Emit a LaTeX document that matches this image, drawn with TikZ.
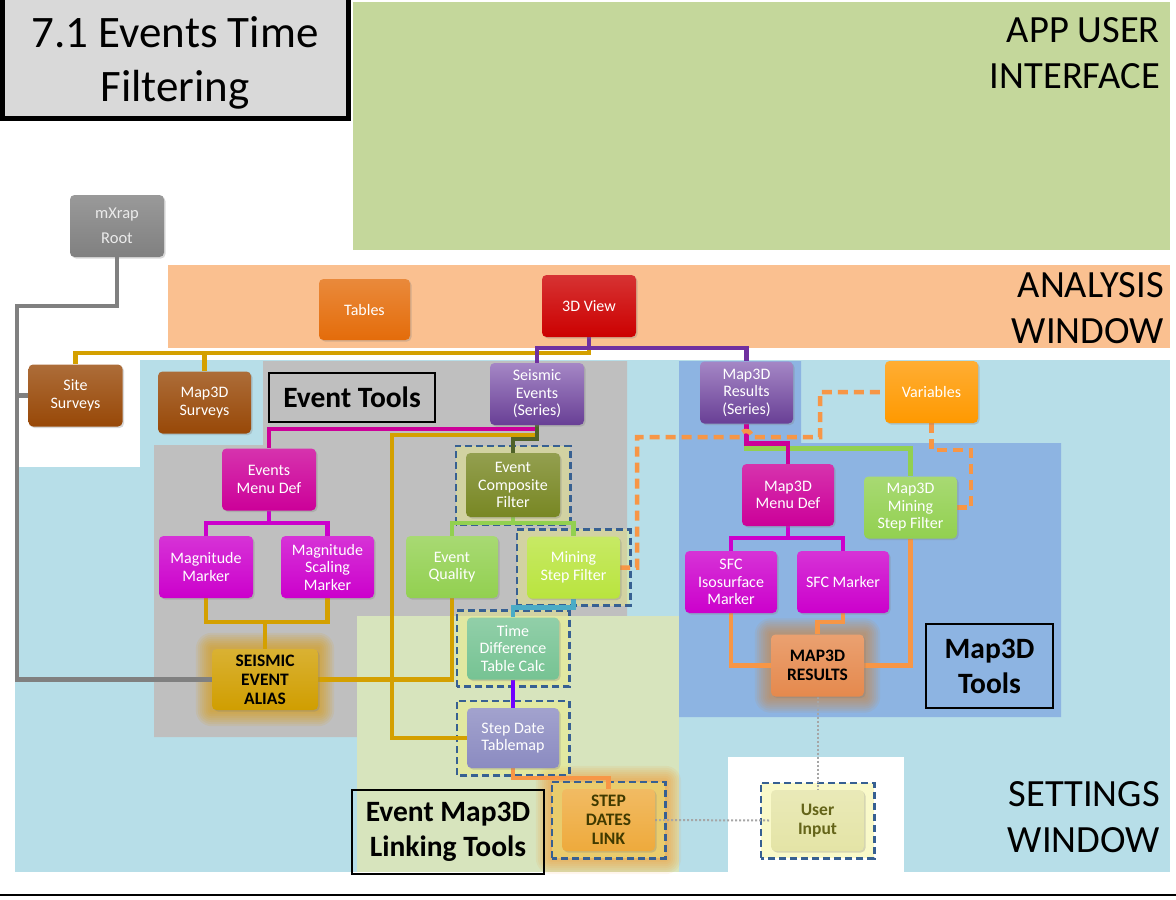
\documentclass[tikz,border=0pt]{standalone}
\usepackage{fontspec}
\setmainfont{Carlito}
\usetikzlibrary{calc,shadows}
\pgfdeclarelayer{regions}
\pgfdeclarelayer{glow}
\pgfdeclarelayer{lines}
\pgfsetlayers{regions,glow,lines,main}

\definecolor{bgset}{RGB}{183,222,232}
\definecolor{bggreen}{RGB}{196,215,155}
\definecolor{bgorange}{RGB}{250,192,144}
\definecolor{bggray}{RGB}{191,191,191}
\definecolor{bgyg}{RGB}{215,228,189}
\definecolor{bgmap}{RGB}{141,180,226}
\definecolor{titlegray}{RGB}{217,217,217}

\definecolor{cRoot}{RGB}{128,128,128}
\definecolor{cTables}{RGB}{228,108,10}
\definecolor{cView}{RGB}{204,0,0}
\definecolor{cBrown}{RGB}{152,72,7}
\definecolor{cPurple}{RGB}{116,70,166}
\definecolor{cVars}{RGB}{255,153,0}
\definecolor{cMenu}{RGB}{204,0,153}
\definecolor{cMark}{RGB}{204,0,204}
\definecolor{cOlive}{RGB}{120,135,35}
\definecolor{cLgreen}{RGB}{146,208,80}
\definecolor{cLime}{RGB}{185,228,62}
\definecolor{cMint}{RGB}{118,195,147}
\definecolor{cLav}{RGB}{139,139,193}
\definecolor{cSdl}{RGB}{238,170,60}
\definecolor{cAlias}{RGB}{208,158,0}
\definecolor{cM3r}{RGB}{229,137,77}
\definecolor{cUser}{RGB}{228,228,166}

\definecolor{lGray}{RGB}{128,128,128}
\definecolor{lGold}{RGB}{212,160,0}
\definecolor{lPurple}{RGB}{112,48,160}
\definecolor{lMag}{RGB}{204,0,153}
\definecolor{lMag2}{RGB}{204,0,204}
\definecolor{lOlive}{RGB}{79,98,40}
\definecolor{lGreen}{RGB}{146,208,80}
\definecolor{lTeal}{RGB}{75,172,198}
\definecolor{lViolet}{RGB}{112,0,255}
\definecolor{lOrange}{RGB}{247,150,70}
\definecolor{lDash}{RGB}{55,96,146}
\definecolor{dboxfill}{RGB}{240,240,120}
\definecolor{sdltext}{RGB}{64,58,0}
\definecolor{usertext}{RGB}{100,100,25}

\newcommand{\nodefont}{\fontsize{16}{17.5}\selectfont}
\newcommand{\rootfont}{\fontsize{16.5}{25}\selectfont}
\newcommand{\boldnodefont}{\fontsize{17.5}{19}\selectfont\bfseries}
\newcommand{\labfont}{\fontsize{29.5}{35}\selectfont\bfseries}
\newcommand{\bigfont}{\fontsize{38.5}{45}\selectfont}
\newcommand{\titlefont}{\fontsize{45}{56}\selectfont}

\tikzset{
  nd/.style={rounded corners=4.5pt, minimum width=93pt, minimum height=62pt,
    inner sep=1pt, align=center, text=white, font=\nodefont,
    drop shadow={opacity=0.3, shadow xshift=1.5pt, shadow yshift=-1.5pt}},
  ndc/.style={nd, top color=#1!80!white, bottom color=#1},
  lbl/.style={draw=black, line width=2.5pt, align=center, font=\labfont, inner sep=2pt},
  big/.style={inner sep=0pt, font=\bigfont},
  ln/.style={line width=4.5pt},
  dbox/.style={draw=lDash, line width=2.6pt, dash pattern=on 7pt off 4pt,
    fill=dboxfill, fill opacity=0.4},
  odash/.style={draw=lOrange, line width=4.5pt, dash pattern=on 10pt off 6pt},
  dotl/.style={draw=black!35, line width=2pt, dotted},
}

\begin{document}
\begin{tikzpicture}[x=1pt,y=-1pt]
\useasboundingbox (0,0) rectangle (1176,900);

% ---------- regions ----------
\begin{pgfonlayer}{regions}
\fill[bgset] (15,360) rectangle (1170,872);
\fill[white] (15,305) rectangle (140,467);
\fill[bggreen] (353,2) rectangle (1170,250);
\fill[bgorange] (168,265) rectangle (1170,348);
\fill[bggray] (263,361) -- (627,361) -- (627,616) -- (357,616) -- (357,737)
  -- (154,737) -- (154,445) -- (263,445) -- cycle;
\fill[bgyg] (357,616) rectangle (679,872);
\fill[bgmap] (679,361) -- (801,361) -- (801,443) -- (1061,443) -- (1061,717)
  -- (679,717) -- cycle;
\fill[white] (728,757) rectangle (904,875);
\draw[line width=5pt, fill=titlegray] (2,-5) rectangle (348,118);
\draw[line width=1.5pt] (0,895) -- (1176,895);
\end{pgfonlayer}

% ---------- big labels ----------
\node[inner sep=0pt, font=\titlefont, anchor=base] (t1) at (175,47) {7.1 Events Time};
\node[inner sep=0pt, font=\titlefont, anchor=base] (t2) at (175,101) {Filtering};
\node[big, anchor=base east] (app1) at (1160,42) {APP USER};
\node[big, anchor=base east] (app2) at (1160,88) {INTERFACE};
\node[big, anchor=base east] (ana1) at (1164,297) {ANALYSIS};
\node[big, anchor=base east] (ana2) at (1164,343) {WINDOW};
\node[big, anchor=base east] (set1) at (1160,806) {SETTINGS};
\node[big, anchor=base east] (set2) at (1160,852) {WINDOW};

\node[lbl, minimum width=166pt, minimum height=49pt] (evtools) at (352,397.5) {Event Tools};
\node[lbl, minimum width=192pt, minimum height=84pt] (linktools) at (448,832) {Event Map3D\\Linking Tools};
\node[lbl, minimum width=127pt, minimum height=84pt] (m3tools) at (989.5,666) {Map3D\\Tools};

% ---------- nodes ----------
\node[ndc=cRoot, font=\rootfont, text=white!92!black, minimum width=94pt] (root) at (117,226) {mXrap\\Root};
\node[ndc=cTables, minimum width=91pt, minimum height=61pt] (tables) at (364.5,309.5) {Tables};
\node[ndc=cView, minimum width=94pt] (view) at (589,306) {3D View};
\node[ndc=cBrown, minimum width=94pt] (site) at (75.5,395.5) {Site\\Surveys};
\node[ndc=cBrown] (msurv) at (204.5,402.5) {Map3D\\Surveys};
\node[nd, top color=cPurple!65!white, bottom color=cPurple!90!black, minimum width=94pt] (seis) at (537,394) {Seismic\\Events\\(Series)};
\node[nd, top color=cPurple!65!white, bottom color=cPurple!90!black] (m3res) at (746.5,392.5) {Map3D\\Results\\(Series)};
\node[ndc=cVars] (vars) at (931.5,392) {Variables};
\node[ndc=cMenu, minimum width=94pt] (emenu) at (269,479.5) {Events\\Menu Def};
\node[ndc=cOlive, minimum width=94pt, minimum height=64pt] (ecomp) at (513,485) {Event\\Composite\\Filter};
\node[ndc=cMark, minimum width=94pt] (magm) at (206,567) {Magnitude\\Marker};
\node[ndc=cMark] (magsc) at (327.5,567) {Magnitude\\Scaling\\Marker};
\node[ndc=cLgreen, minimum width=92pt] (equal) at (452,567) {Event\\Quality};
\node[ndc=cLime] (mining) at (573.5,567.5) {Mining\\Step Filter};
\node[ndc=cMint, minimum width=92pt] (tdiff) at (513,648.5) {Time\\Difference\\Table Calc};
\node[ndc=cLav, minimum width=92pt, minimum height=60pt] (sdtm) at (513,738) {Step Date\\Tablemap};
\node[ndc=cSdl, text=sdltext, font=\boldnodefont] (sdl) at (608.5,820) {STEP\\DATES\\LINK};
\node[ndc=cAlias, text=black, font=\boldnodefont, minimum width=106pt, minimum height=61pt] (alias) at (265,679.5) {SEISMIC\\EVENT\\ALIAS};
\node[ndc=cMenu, minimum width=92pt] (m3menu) at (788,495) {Map3D\\Menu Def};
\node[ndc=cLgreen] (m3mining) at (910.5,507.5) {Map3D\\Mining\\Step Filter};
\node[ndc=cMark, minimum width=92pt] (sfciso) at (731,582) {SFC\\Isosurface\\Marker};
\node[ndc=cMark, minimum width=92pt] (sfcm) at (843,582) {SFC Marker};
\node[ndc=cM3r, text=black, font=\boldnodefont] (m3r) at (817.5,665.5) {MAP3D\\RESULTS};
\node[ndc=cUser, text=usertext, font=\boldnodefont, minimum height=61pt] (user) at (817.5,820.5) {User\\Input};

% ---------- glows and dashed boxes ----------
\begin{pgfonlayer}{glow}
\foreach \g in {16,14,...,2} {
  \fill[lGold!80!orange, opacity=0.10, rounded corners=\g pt]
    ($(alias.south west)+(-\g,\g)$) rectangle ($(alias.north east)+(\g,-\g)$);
  \fill[brown!60!orange, opacity=0.09, rounded corners=\g pt]
    ($(m3r.south west)+(-\g,\g)$) rectangle ($(m3r.north east)+(\g,-\g)$);
  \fill[orange, opacity=0.07, rounded corners=\g pt]
    ($(sdl.south west)+(-\g-10,\g+7)$) rectangle ($(sdl.north east)+(\g+10,-\g-7)$);
}
\foreach \n in {ecomp,mining,tdiff,sdtm,sdl,user} {
  \draw[dbox] ($(\n.south west)+(-10,7)$) rectangle ($(\n.north east)+(10,-7)$);
}
\end{pgfonlayer}

% ---------- connectors ----------
\begin{pgfonlayer}{lines}
% gray
\coordinate (gcorner) at (17,306);
\draw[ln, draw=lGray] (root.south) |- (gcorner) |- (alias.west);
\draw[ln, draw=lGray] (site.west) -- (site.west -| gcorner);
% gold
\coordinate (gbus) at (300,353);
\draw[ln, draw=lGold] (view.south) |- (gbus) -| (site.north);
\draw[ln, draw=lGold] (msurv.north) -- (msurv.north |- gbus);
\draw[ln, draw=lGold] (seis.south) -- ++(0,10) -| ($(sdtm.west)+(-75,0)$) -- (sdtm.west);
\draw[ln, draw=lGold] (magm.south) -- ++(0,24) -| (magsc.south);
\draw[ln, draw=lGold] (alias.north) -- ++(0,-27);
\draw[ln, draw=lGold] (alias.east) -| (equal.south);
% purple
\coordinate (pbus) at (600,348);
\draw[ln, draw=lPurple] (view.south) |- (pbus) -| (seis.north);
\draw[ln, draw=lPurple] (view.south |- pbus) -| (m3res.north);
% magenta
\draw[ln, draw=lMag] (seis.south) -- ++(0,4) -| (emenu.north);
\draw[ln, draw=lMag2] (emenu.south) -- ++(0,12.5) -| (magm.north);
\draw[ln, draw=lMag2] (emenu.south) -- ++(0,12.5) -| (magsc.north);
% olive
\draw[ln, draw=lOlive] (seis.south) -- ++(0,14) -| (ecomp.north);
% green
\draw[ln, draw=lGreen] (ecomp.south) -- ++(0,6) -| (equal.north);
\draw[ln, draw=lGreen] (ecomp.south) -- ++(0,6) -| (mining.north);
% teal
\draw[ln, draw=lTeal] (mining.south) -- ++(0,9) -| (tdiff.north);
% violet
\draw[ln, draw=lViolet] (tdiff.south) -- (sdtm.north);
% orange
\draw[ln, draw=lOrange] (sdtm.south) -- ++(0,10) -| (sdl.north);
% dotted
\draw[dotl] (sdl.east) -- (user.west);
\draw[dotl] (m3r.south) -- (user.north);
% right side
\draw[ln, draw=lGreen] (m3res.south) -- ++(0,25) -| (m3mining.north);
\draw[ln, draw=lMag] (m3res.south) -- ++(0,20) -| (m3menu.north);
\draw[ln, draw=lMag2] (m3menu.south) -- ++(0,12) -| (sfciso.north);
\draw[ln, draw=lMag2] (m3menu.south) -- ++(0,12) -| (sfcm.north);
\draw[ln, draw=lOrange] (sfciso.south) |- (m3r.west);
\draw[ln, draw=lOrange] (sfcm.south) -- ++(0,9) -| (m3r.north);
\draw[ln, draw=lOrange] (m3mining.south) |- (m3r.east);
% dashed orange
\draw[odash] (mining.east) -- ++(17,0) |- (740,437)
  arc[start angle=180, end angle=0, radius=6pt] -- (820,437) |- (vars.west);
\draw[odash] (vars.south) -- ++(0,27) -| ($(m3mining.east)+(14,0)$) -- (m3mining.east);
\end{pgfonlayer}
\end{tikzpicture}
\end{document}
